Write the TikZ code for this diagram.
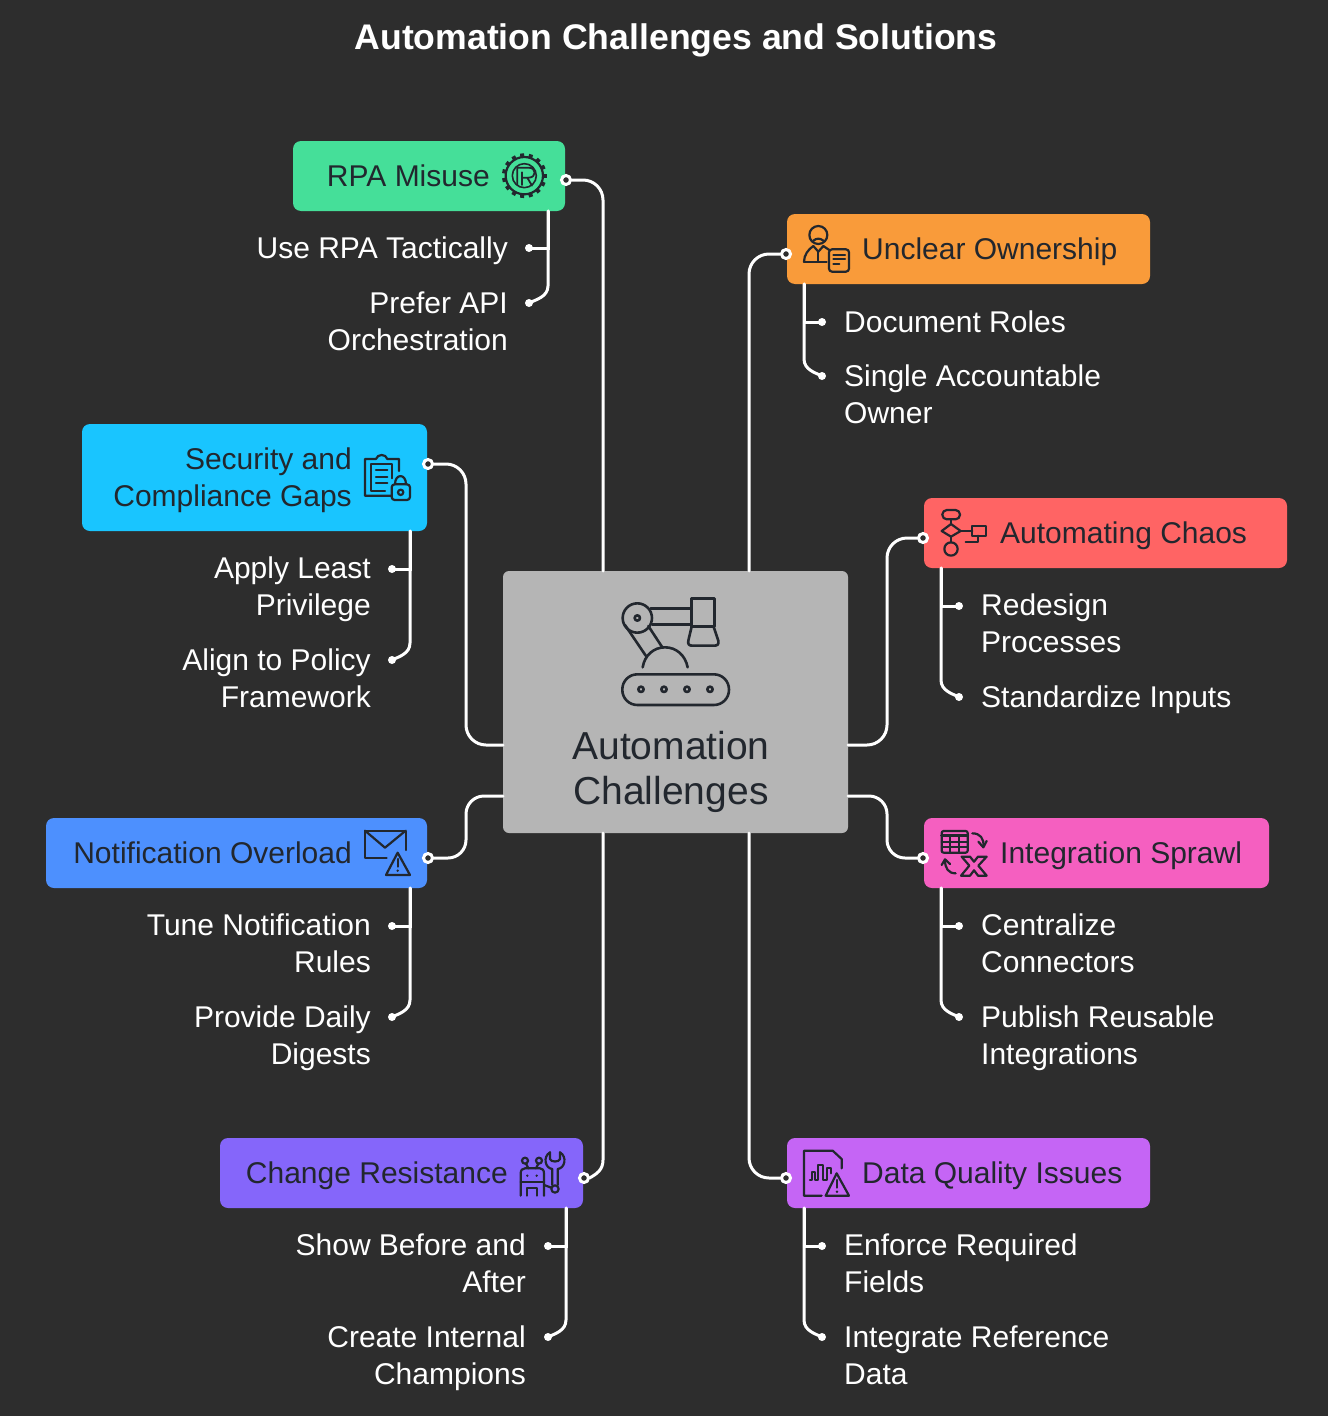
\documentclass[tikz,border=0pt]{standalone}
\usepackage{fontspec}
\setmainfont{Liberation Sans}
\usetikzlibrary{calc}
\definecolor{bgc}{HTML}{2D2D2D}
\definecolor{inkc}{HTML}{22272E}
\definecolor{cgrey}{HTML}{B5B5B5}
\definecolor{cgreen}{HTML}{45DF99}
\definecolor{corange}{HTML}{F99B3A}
\definecolor{cred}{HTML}{FF6464}
\definecolor{cpink}{HTML}{F55FC0}
\definecolor{cviolet}{HTML}{C565F5}
\definecolor{cpurple}{HTML}{8566FA}
\definecolor{cblue}{HTML}{4D90FE}
\definecolor{ccyan}{HTML}{19C5FF}
\newcommand{\kidfont}{\fontsize{30}{36.6}\selectfont}
\newcommand{\headfont}{\fontsize{30}{36.6}\selectfont}
\newcommand{\kidbranch}[4]{%
  \draw[wire] (#1) |- (#2.center);
  \draw[wire] (#1) -- ($(#3.center -| #1)+(0,-17)$) .. controls +(0,11) and +(#4,-3) .. (#3.center);
}
\tikzset{
  x=1pt,y=-1pt,
  cardbox/.style={rectangle,rounded corners=8pt,inner sep=0pt,outer sep=0pt,anchor=north west},
  headR/.style={inner sep=0pt,anchor=base east,align=right,text=inkc,font=\headfont,yshift=0.8pt},
  headL/.style={inner sep=0pt,anchor=base west,align=left,text=inkc,font=\headfont,yshift=0.8pt},
  kidR/.style={inner sep=0pt,anchor=base east,align=right,text=white,font=\kidfont,yshift=0.8pt},
  kidL/.style={inner sep=0pt,anchor=base west,align=left,text=white,font=\kidfont,yshift=0.8pt},
  wire/.style={draw=white,line width=3pt,line cap=round},
  bigdot/.style={circle,draw=white,line width=3pt,fill=bgc,minimum size=9pt,inner sep=0pt,outer sep=1pt},
  kiddot/.style={circle,fill=white,minimum size=8pt,inner sep=0pt},
  iconline/.style={draw=inkc,line width=2.2pt,line cap=round,line join=round},
  zoomed/.style={x=0.3333pt,y=-0.3333pt},
}
\begin{document}
\begin{tikzpicture}
\useasboundingbox (0,0) rectangle (1328,1416);
\fill[bgc] (0,0) rectangle (1328,1416);
\node[inner sep=0pt,text=white,font=\fontsize{35.6}{40}\selectfont\bfseries] (title) at (676,40) {Automation Challenges and Solutions};

% end points on the central card
\coordinate (cA) at (603,571);
\coordinate (cB) at (749,571);
\coordinate (cC) at (503,745);
\coordinate (cD) at (848,745);
\coordinate (cE) at (503,796);
\coordinate (cF) at (848,796);
\coordinate (cG) at (603,833);
\coordinate (cH) at (749,833);
\coordinate (kC) at (466,745);
\coordinate (kD) at (887,745);
\coordinate (kE) at (466,796);
\coordinate (kF) at (887,796);
\coordinate (kG) at (603,1160);

% cards
\node[cardbox,rounded corners=6pt,fill=cgrey,minimum width=345pt,minimum height=262pt] (hub) at (503,571) {};
\node[cardbox,fill=cgreen,minimum width=272pt,minimum height=70pt] (rpa) at (293,141) {};
\node[cardbox,fill=corange,minimum width=363pt,minimum height=70pt] (own) at (787,214) {};
\node[cardbox,fill=cred,minimum width=363pt,minimum height=70pt] (chaos) at (924,498) {};
\node[cardbox,fill=cpink,minimum width=345pt,minimum height=70pt] (integ) at (924,818) {};
\node[cardbox,fill=cviolet,minimum width=363pt,minimum height=70pt] (dataq) at (787,1138) {};
\node[cardbox,fill=cpurple,minimum width=363pt,minimum height=70pt] (change) at (220,1138) {};
\node[cardbox,fill=cblue,minimum width=381pt,minimum height=70pt] (notif) at (46,818) {};
\node[cardbox,fill=ccyan,minimum width=345pt,minimum height=107pt] (secur) at (82,424) {};

% card texts
\node[inner sep=0pt,align=center,text=inkc,font=\fontsize{39}{45.5}\selectfont] (hubtext) at (671,772) {Automation\\Challenges};
\node[headR] (trpa) at (490,187) {RPA Misuse};
\node[headL] (town) at (862,260) {Unclear Ownership};
\node[headL] (tchaos) at (1000,544) {Automating Chaos};
\node[headL] (tinteg) at (1000,864) {Integration Sprawl};
\node[headL] (tdata) at (862,1184) {Data Quality Issues};
\node[headR] (tchange) at (508,1184) {Change Resistance};
\node[headR] (tnotif) at (352,864) {Notification Overload};
\node[headR] (tsecur) at (352,507) {Security and\\Compliance Gaps};

% child texts
\node[kidR] (a1) at (508,259) {Use RPA Tactically};
\node[kidR] (a2) at (508,351) {Prefer API\\Orchestration};
\node[kidL] (b1) at (844,333) {Document Roles};
\node[kidL] (b2) at (844,424) {Single Accountable\\Owner};
\node[kidR] (c1) at (371,616) {Apply Least\\Privilege};
\node[kidR] (c2) at (371,708) {Align to Policy\\Framework};
\node[kidL] (d1) at (981,653) {Redesign\\Processes};
\node[kidL] (d2) at (981,708) {Standardize Inputs};
\node[kidR] (e1) at (371,973) {Tune Notification\\Rules};
\node[kidR] (e2) at (371,1065) {Provide Daily\\Digests};
\node[kidL] (f1) at (981,973) {Centralize\\Connectors};
\node[kidL] (f2) at (981,1065) {Publish Reusable\\Integrations};
\node[kidR] (g1) at (526,1293) {Show Before and\\After};
\node[kidR] (g2) at (526,1385) {Create Internal\\Champions};
\node[kidL] (h1) at (844,1293) {Enforce Required\\Fields};
\node[kidL] (h2) at (844,1385) {Integrate Reference\\Data};

% main connector dots
\node[bigdot] (drpa) at (566,180) {};
\node[bigdot] (down) at (786,254) {};
\node[bigdot] (dsec) at (428,464) {};
\node[bigdot] (dchaos) at (923,538) {};
\node[bigdot] (dnotif) at (428,858) {};
\node[bigdot] (dinteg) at (923,858) {};
\node[bigdot] (dchange) at (584,1178) {};
\node[bigdot] (ddata) at (786,1178) {};

% main connectors
\draw[wire,rounded corners=20pt] (drpa.east) -| (cA);
\draw[wire,rounded corners=20pt] (down.west) -| (cB);
\draw[wire,rounded corners=20pt] (dsec.east) -| (kC) -- (cC);
\draw[wire,rounded corners=20pt] (dchaos.west) -| (kD) -- (cD);
\draw[wire,rounded corners=18pt] (dnotif.east) -| (kE) -- (cE);
\draw[wire,rounded corners=18pt] (dinteg.west) -| (kF) -- (cF);
\draw[wire] (cG) -- (kG) .. controls +(0,10) and +(7,-4) .. (dchange.east);
\draw[wire,rounded corners=20pt] (ddata.west) -| (cH);

% child dots and stems
\coordinate (sa) at (548,211); \node[kiddot] (ta) at (529,248) {}; \node[kiddot] (ua) at (529,303) {};
\coordinate (sb) at (804,284); \node[kiddot] (tb) at (822,322) {}; \node[kiddot] (ub) at (822,376) {};
\coordinate (sc) at (410,531); \node[kiddot] (tc) at (392,569) {}; \node[kiddot] (uc) at (392,660) {};
\coordinate (sd) at (941,568); \node[kiddot] (td) at (959,606) {}; \node[kiddot] (ud) at (959,697) {};
\coordinate (se) at (410,888); \node[kiddot] (te) at (392,926) {}; \node[kiddot] (ue) at (392,1017) {};
\coordinate (sf) at (941,888); \node[kiddot] (tf) at (959,926) {}; \node[kiddot] (uf) at (959,1017) {};
\coordinate (sg) at (566,1208); \node[kiddot] (tg) at (548,1246) {}; \node[kiddot] (ug) at (548,1337) {};
\coordinate (sh) at (804,1208); \node[kiddot] (th) at (822,1246) {}; \node[kiddot] (uh) at (822,1337) {};
\kidbranch{sa}{ta}{ua}{6}
\kidbranch{sb}{tb}{ub}{-6}
\kidbranch{sc}{tc}{uc}{6}
\kidbranch{sd}{td}{ud}{-6}
\kidbranch{se}{te}{ue}{6}
\kidbranch{sf}{tf}{uf}{-6}
\kidbranch{sg}{tg}{ug}{6}
\kidbranch{sh}{th}{uh}{-6}

% hub icon
\begin{scope}[shift={(500,570)},zoomed,iconline,line width=2.6pt]
\draw (412,144) circle (44);
\draw (412,144) circle (8);
\draw (452,116) -- (575,116);
\draw (456,163) -- (575,163);
\draw (575,86) rectangle (643,170);
\draw (575,170) -- (565,212) .. controls (563,224) and (568,227) .. (578,227) -- (642,227) .. controls (652,227) and (657,224) .. (655,212) -- (641,170);
\draw (375,165) -- (438,258);
\draw (445,168) -- (487,232);
\draw (428,292) .. controls (434,255) and (462,232) .. (495,232) .. controls (528,232) and (556,255) .. (563,292);
\draw[rounded corners=15pt] (367,313) rectangle (687,405);
\foreach \k in {423,492,561,630} \draw (\k,358) circle (8);
\end{scope}

% RPA icon
\begin{scope}[shift={(290,135)},zoomed,iconline]
\draw (703,122) circle (56);
\draw[line width=1.6pt] (703,122) circle (36);
\foreach \k in {0,24,...,336} \draw[line width=4pt,line cap=butt] ({703+54*cos(\k)},{122+54*sin(\k)}) -- ({703+67*cos(\k)},{122+67*sin(\k)});
\draw[line width=1.8pt] (682,150) -- (682,98) -- (716,98) .. controls (740,98) and (740,128) .. (716,128) -- (696,128);
\draw[line width=1.8pt] (696,112) -- (696,150);
\draw[line width=1.8pt] (712,128) -- (726,152);
\end{scope}

% owner icon
\begin{scope}[shift={(780,210)},zoomed,iconline]
\draw (115,75) circle (27);
\draw (100,92) .. controls (110,84) and (120,84) .. (130,92);
\draw (72,155) .. controls (72,135) and (85,118) .. (100,108) -- (115,125) -- (130,108) -- (148,120);
\draw (72,155) -- (140,155);
\draw (115,125) -- (115,155);
\draw[rounded corners=3pt] (147,118) rectangle (207,185);
\draw (160,135) -- (195,135);
\draw (160,148) -- (195,148);
\draw (160,163) -- (178,163);
\end{scope}

% chaos icon
\begin{scope}[shift={(915,495)},zoomed,iconline]
\draw[rounded corners=4.5pt] (82,45) rectangle (135,73);
\draw (108,87) -- (137,108) -- (108,125) -- (80,108) -- cycle;
\draw (108,162) circle (20);
\draw (108,73) -- (108,87);
\draw (108,125) -- (108,142);
\draw (137,108) -- (172,108);
\draw (172,92) rectangle (213,122);
\draw (152,142) -- (190,142) -- (190,122);
\end{scope}

% integration icon
\begin{scope}[shift={(915,815)},zoomed,iconline]
\draw[rounded corners=2pt] (80,48) rectangle (158,113);
\draw[line width=3pt] (80,62) -- (158,62);
\draw (80,80) -- (158,80);
\draw (80,97) -- (158,97);
\draw (105,62) -- (105,113);
\draw (131,62) -- (131,113);
\draw (172,55) .. controls (195,55) and (208,70) .. (205,95);
\draw (190,80) -- (205,97) -- (215,78);
\draw (122,175) .. controls (100,175) and (90,160) .. (90,135);
\draw (80,150) -- (90,133) -- (105,147);
\draw (140,125) -- (165,125) -- (177,140) -- (189,125) -- (215,125) -- (190,152) -- (215,182) -- (189,182) -- (177,166) -- (165,182) -- (138,182) -- (163,152) -- cycle;
\end{scope}

% data icon
\begin{scope}[shift={(780,1135)},zoomed,iconline]
\draw (125,182) -- (72,182) -- (72,47) -- (158,47) -- (185,72) -- (185,100);
\draw (90,135) -- (95,135) -- (95,110) -- (105,110) -- (105,135) -- (115,135) -- (115,90) -- (130,90) -- (130,135) -- (140,135) -- (140,100) -- (152,100) -- (152,115);
\draw (170,115) -- (207,182) -- (137,182) -- cycle;
\draw (171,135) -- (171,158);
\fill[inkc] (171,170) circle (4);
\end{scope}

% change icon
\begin{scope}[shift={(500,1135)},zoomed,iconline]
\draw (62,182) -- (62,115) .. controls (62,105) and (68,100) .. (75,100) -- (120,100) .. controls (127,100) and (132,105) .. (132,115) -- (132,182);
\fill[inkc] (82,122) circle (4);
\fill[inkc] (110,122) circle (4);
\draw (75,77) circle (9);
\draw (117,77) circle (9);
\draw (78,86) -- (85,100);
\draw (115,86) -- (108,100);
\draw (62,142) -- (132,142);
\draw (80,182) -- (80,158) -- (112,158) -- (112,182);
\draw (150,52) .. controls (128,65) and (135,100) .. (157,102) -- (157,150);
\draw (180,52) .. controls (202,65) and (195,100) .. (173,102) -- (173,150);
\draw (150,52) -- (150,72) .. controls (152,82) and (178,82) .. (180,72) -- (180,52);
\draw (165,162) circle (11);
\draw (132,150) -- (154,158);
\end{scope}

% notification icon
\begin{scope}[shift={(350,815)},zoomed,iconline]
\draw (110,128) -- (45,128) -- (45,47) -- (167,47) -- (167,105);
\draw (45,47) -- (105,98) -- (167,47);
\draw (143,113) -- (180,180) -- (108,180) -- cycle;
\draw (143,132) -- (143,155);
\fill[inkc] (143,167) circle (4);
\end{scope}

% security icon
\begin{scope}[shift={(350,445)},zoomed,iconline]
\draw (125,152) -- (45,152) -- (45,42) -- (78,42) .. controls (82,26) and (108,26) .. (112,42) -- (147,42) -- (147,78);
\draw (105,138) -- (62,138) -- (62,58) -- (125,58) -- (125,100);
\draw (78,75) -- (112,75);
\draw (78,95) -- (112,95);
\draw (78,115) -- (112,115);
\draw[rounded corners=3pt] (125,118) rectangle (180,165);
\draw (135,118) .. controls (135,85) and (168,85) .. (168,118);
\draw (152,142) circle (8);
\end{scope}
\end{tikzpicture}
\end{document}
